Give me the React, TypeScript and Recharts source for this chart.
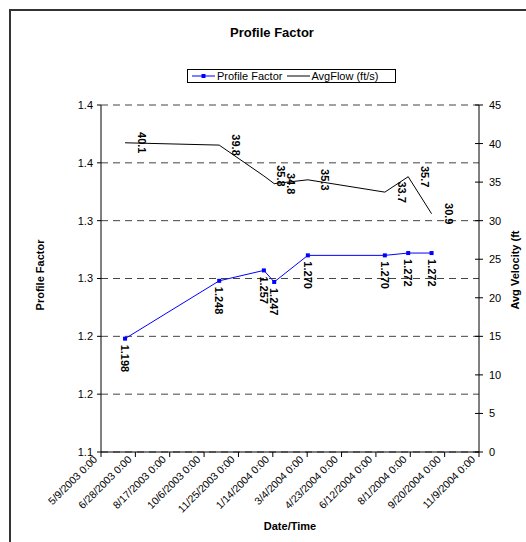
import React from "react";
import { ComposedChart, Line, XAxis, YAxis, CartesianGrid } from "recharts";

// sample dates (M/D/YYYY) with profile factor and average flow
const sampleDates = ["6/13/2003", "10/28/2003", "1/1/2004", "1/16/2004", "3/5/2004", "6/25/2004", "7/29/2004", "9/1/2004"];
const profileFactor = [1.198, 1.248, 1.257, 1.247, 1.27, 1.27, 1.272, 1.272];
const avgFlow = [40.1, 39.8, 35.8, 34.8, 35.3, 33.7, 35.7, 30.9];

const dateTicks = ["5/9/2003", "6/28/2003", "8/17/2003", "10/6/2003", "11/25/2003", "1/14/2004", "3/4/2004", "4/23/2004", "6/12/2004", "8/1/2004", "9/20/2004", "11/9/2004"];
const pfTicks = [1.1, 1.15, 1.2, 1.25, 1.3, 1.35, 1.4];
const pfTickLabels = ["1.1", "1.2", "1.2", "1.3", "1.3", "1.4", "1.4"];
const flowTicks = [0, 5, 10, 15, 20, 25, 30, 35, 40, 45];

const FONT = "'Liberation Sans', Arial, sans-serif";

const toTime = (s: string) => {
  const [m, d, y] = s.split("/").map(Number);
  return Date.UTC(y, m - 1, d);
};

const xTicks = dateTicks.map(toTime);
const data = sampleDates.map((d, i) => ({ t: toTime(d), pf: profileFactor[i], flow: avgFlow[i] }));

const fmtDate = (v: number) => {
  const d = new Date(v);
  return `${d.getUTCMonth() + 1}/${d.getUTCDate()}/${d.getUTCFullYear()} 0:00`;
};

function DateTick({ x, y, payload }: any) {
  const tx = x - 3;
  const ty = y + 3;
  return (
    <text x={tx} y={ty} transform={`rotate(-45, ${tx}, ${ty})`} textAnchor="end" fontSize={10.5} fill="#000" fontFamily={FONT}>
      {fmtDate(payload.value)}
    </text>
  );
}

function FlowTick({ x, y, payload }: any) {
  // tick mark crossing the axis line
  return (
    <g>
      <line x1={x - 11} x2={x - 3} y1={y} y2={y} stroke="#000" />
      <text x={x + 3} y={y} dominantBaseline="central" fontSize={11} fill="#000" fontFamily={FONT}>
        {payload.value}
      </text>
    </g>
  );
}

function PfDot({ cx, cy }: any) {
  return <rect x={cx - 2} y={cy - 2} width={4} height={4} fill="#0000ff" />;
}

function PfLabel({ x, y, value }: any) {
  const ly = y + 6;
  return (
    <text x={x} y={ly} transform={`rotate(90, ${x}, ${ly})`} textAnchor="start" dominantBaseline="central"
      fontSize={11} fontWeight="bold" fill="#000" fontFamily={FONT}>
      {Number(value).toFixed(3)}
    </text>
  );
}

function FlowLabel({ x, y, value }: any) {
  const lx = x + 17;
  return (
    <text x={lx} y={y} transform={`rotate(90, ${lx}, ${y})`} textAnchor="middle" dominantBaseline="central"
      fontSize={11} fontWeight="bold" fill="#000" fontFamily={FONT}>
      {Number(value).toFixed(1)}
    </text>
  );
}

export default function App() {
  return (
    <div style={{ position: "absolute", left: 0, top: 0, width: 526, height: 542, background: "#fff", fontFamily: FONT, overflow: "hidden" }}>
      <div style={{ position: "absolute", left: 9, top: 9, right: -5, bottom: -5, borderLeft: "2px solid #333", borderTop: "2px solid #333" }} />
      <div style={{ position: "absolute", left: 172, width: 200, top: 25, textAlign: "center", fontSize: 13, fontWeight: "bold" }}>
        Profile Factor
      </div>
      <div style={{ position: "absolute", left: 187, top: 69, width: 207, height: 12, border: "1px solid #000", display: "flex", alignItems: "center", fontSize: 11, whiteSpace: "nowrap" }}>
        <svg width={26} height={10} style={{ marginLeft: 3 }}>
          <line x1={1} x2={24} y1={5} y2={5} stroke="#0000ff" />
          <rect x={10.5} y={3} width={4} height={4} fill="#0000ff" />
        </svg>
        <span>Profile Factor</span>
        <svg width={26} height={10} style={{ marginLeft: 3 }}>
          <line x1={2} x2={25} y1={5} y2={5} stroke="#000" />
        </svg>
        <span>AvgFlow (ft/s)</span>
      </div>
      <div style={{ position: "absolute", left: 40, top: 275, transform: "translate(-50%, -50%) rotate(-90deg)", fontSize: 11, fontWeight: "bold", whiteSpace: "nowrap" }}>
        Profile Factor
      </div>
      <div style={{ position: "absolute", left: 515, top: 270, transform: "translate(-50%, -50%) rotate(-90deg)", fontSize: 11, fontWeight: "bold", whiteSpace: "nowrap" }}>
        Avg Velocity (ft
      </div>
      <div style={{ position: "absolute", left: 240, width: 100, top: 520, textAlign: "center", fontSize: 11, fontWeight: "bold" }}>
        Date/Time
      </div>
      <div style={{ position: "absolute", left: 0, top: 0 }}>
        <ComposedChart width={526} height={542} data={data} margin={{ top: 105, right: 7, bottom: 20, left: 51 }}>
          <CartesianGrid yAxisId="left" vertical={false} stroke="#444" strokeDasharray="7 5" />
          <XAxis dataKey="t" type="number" domain={[xTicks[0], xTicks[xTicks.length - 1]]} ticks={xTicks}
            interval={0} height={70} tick={<DateTick />} tickSize={5} tickMargin={0} stroke="#000" allowDataOverflow />
          <YAxis yAxisId="left" domain={[1.1, 1.4]} ticks={pfTicks} width={50} stroke="#000" tickSize={4} tickMargin={4}
            tickFormatter={(v: number) => pfTickLabels[pfTicks.indexOf(v)]}
            tick={{ fontSize: 11, fill: "#000", fontFamily: FONT }} allowDataOverflow />
          <YAxis yAxisId="right" orientation="right" domain={[0, 45]} ticks={flowTicks} width={40} stroke="#000"
            tickLine={false} tickSize={4} tickMargin={3} tick={<FlowTick />} allowDataOverflow />
          <Line yAxisId="right" dataKey="flow" stroke="#000" strokeWidth={1} dot={false} type="linear"
            isAnimationActive={false} label={<FlowLabel />} />
          <Line yAxisId="left" dataKey="pf" stroke="#0000ff" strokeWidth={1} dot={<PfDot />} type="linear"
            isAnimationActive={false} label={<PfLabel />} />
        </ComposedChart>
      </div>
    </div>
  );
}
